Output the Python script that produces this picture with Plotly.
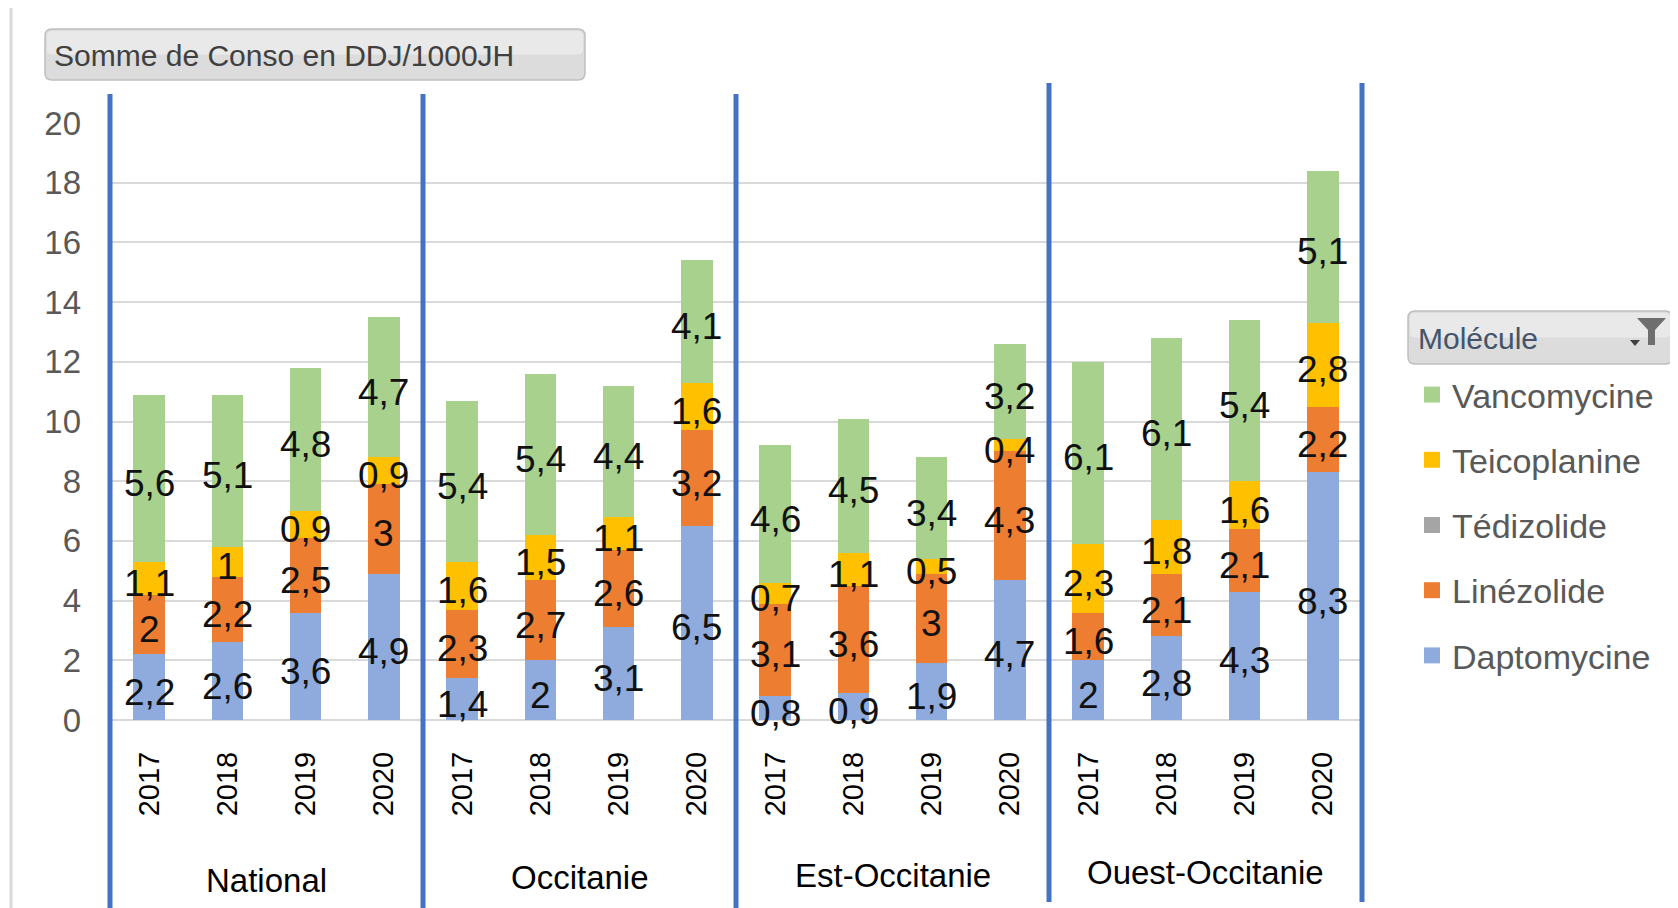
import plotly.graph_objects as go
import numpy as np

# ---------------- data ----------------
groups = ["National", "Occitanie", "Est-Occitanie", "Ouest-Occitanie"]
years = ["2017", "2018", "2019", "2020"]
daptomycine = [2.2, 2.6, 3.6, 4.9, 1.4, 2, 3.1, 6.5, 0.8, 0.9, 1.9, 4.7, 2, 2.8, 4.3, 8.3]
linezolide = [2, 2.2, 2.5, 3, 2.3, 2.7, 2.6, 3.2, 3.1, 3.6, 3, 4.3, 1.6, 2.1, 2.1, 2.2]
tedizolide = [0, 0, 0, 0, 0, 0, 0, 0, 0, 0, 0, 0, 0, 0, 0, 0]
teicoplanine = [1.1, 1, 0.9, 0.9, 1.6, 1.5, 1.1, 1.6, 0.7, 1.1, 0.5, 0.4, 2.3, 1.8, 1.6, 2.8]
vancomycine = [5.6, 5.1, 4.8, 4.7, 5.4, 5.4, 4.4, 4.1, 4.6, 4.5, 3.4, 3.2, 6.1, 6.1, 5.4, 5.1]

series = [  # stacking order bottom -> top
    ("Daptomycine", daptomycine, "#8FAADC", True),
    ("Linézolide", linezolide, "#ED7D31", True),
    ("Tédizolide", tedizolide, "#A5A5A5", False),
    ("Teicoplanine", teicoplanine, "#FFC000", True),
    ("Vancomycine", vancomycine, "#A9D18E", True),
]
legend_order = ["Vancomycine", "Teicoplanine", "Tédizolide", "Linézolide", "Daptomycine"]

# ---------------- geometry helpers ----------------
OFF = 8                      # page body margin in the browser
W, H = 1678 - OFF, 908 - OFF
L, R, T, B = 110, 1362, 123, 720   # plot area in reference pixels
def px(xp):
    return (xp - L) / (R - L)
def py(yp):
    return (B - yp) / (B - T)

FONT = "Liberation Sans, Arial, sans-serif"
n = len(groups) * len(years)
pos = list(range(n))
ticktext = [y for g in groups for y in years]
group_label_y = [880, 878, 875, 873]   # pixel rows of the group captions

def fmt(v):
    return f"{v:g}".replace(".", ",")

fig = go.Figure()
annotations = []
base = np.zeros(n)
for name, vals, color, labelled in series:
    v = np.array(vals, dtype=float)
    fig.add_trace(go.Bar(
        x=pos, y=v, name=name, marker=dict(color=color, line=dict(width=0)),
        showlegend=False, legendgroup=name, hoverinfo="name+y",
    ))
    if labelled:
        for xi, b0, vi in zip(pos, base, v):
            annotations.append(dict(
                x=xi, y=b0 + vi / 2, xref="x", yref="y", text=fmt(vi),
                showarrow=False, xanchor="center", yanchor="middle", yshift=-5,
                font=dict(family=FONT, size=37, color="#111111")))
    base = base + v

colors = {s[0]: s[2] for s in series}
for name in legend_order:
    fig.add_trace(go.Scatter(
        x=[None], y=[None], mode="markers", name=name, legendgroup=name,
        marker=dict(symbol="square", size=20, color=colors[name]),
        showlegend=True,
    ))

shapes = []
# chart border
shapes.append(dict(type="rect", xref="paper", yref="paper",
                   x0=px(11), x1=px(1720), y0=py(960), y1=py(5),
                   line=dict(color="#D9D9D9", width=3), layer="below"))

def rounded(x0, y0, x1, y1, r):
    pts = [
        f"M {px(x0 + r)},{py(y0)}",
        f"L {px(x1 - r)},{py(y0)}",
        f"Q {px(x1)},{py(y0)} {px(x1)},{py(y0 + r)}",
        f"L {px(x1)},{py(y1 - r)}",
        f"Q {px(x1)},{py(y1)} {px(x1 - r)},{py(y1)}",
        f"L {px(x0 + r)},{py(y1)}",
        f"Q {px(x0)},{py(y1)} {px(x0)},{py(y1 - r)}",
        f"L {px(x0)},{py(y0 + r)}",
        f"Q {px(x0)},{py(y0)} {px(x0 + r)},{py(y0)} Z",
    ]
    return " ".join(pts)

# field buttons
for (x0, y0, x1, y1) in [(45, 29, 585, 80), (1408, 311, 1672, 364)]:
    shapes.append(dict(type="path", xref="paper", yref="paper",
                       path=rounded(x0, y0, x1, y1, 7),
                       fillcolor="#DCDCDC", line=dict(color="#BFBFBF", width=1.5)))
    shapes.append(dict(type="path", xref="paper", yref="paper",
                       path=rounded(x0 + 2, y0 + 2, x1 - 2, (y0 + y1) / 2, 5),
                       fillcolor="#E9E9E9", line=dict(width=0)))

# funnel icon + small arrow
funnel = (f"M {px(1637)},{py(318)} L {px(1666)},{py(318)} L {px(1655)},{py(330)} "
          f"L {px(1655)},{py(345)} L {px(1648)},{py(345)} L {px(1648)},{py(330)} Z")
shapes.append(dict(type="path", xref="paper", yref="paper", path=funnel,
                   fillcolor="#6E6E6E", line=dict(width=0)))
arrow = f"M {px(1630)},{py(340)} L {px(1640)},{py(340)} L {px(1635)},{py(346)} Z"
shapes.append(dict(type="path", xref="paper", yref="paper", path=arrow,
                   fillcolor="#404040", line=dict(width=0)))

# blue group dividers
for i in range(len(groups) + 1):
    xb = (i * len(years)) / n
    top, bot = (94, 930) if i < 3 else (83, 902)
    shapes.append(dict(type="line", xref="paper", yref="paper",
                       x0=xb, x1=xb, y0=py(bot), y1=py(top),
                       line=dict(color="#4472C4", width=5)))

annotations += [
    dict(text="Somme de Conso en DDJ/1000JH", xref="paper", yref="paper",
         x=px(52), y=py(55), xanchor="left", yanchor="middle", showarrow=False,
         font=dict(family=FONT, size=30, color="#404040")),
    dict(text="Molécule", xref="paper", yref="paper",
         x=px(1416), y=py(338), xanchor="left", yanchor="middle", showarrow=False,
         font=dict(family=FONT, size=30, color="#44546A")),
]
for gi, g in enumerate(groups):
    annotations.append(dict(
        text=g, xref="x", yref="paper", x=gi * len(years) + (len(years) - 1) / 2,
        y=py(group_label_y[gi]), xanchor="center", yanchor="middle", showarrow=False,
        font=dict(family=FONT, size=33, color="#000000")))

fig.update_layout(
    width=W, height=H, barmode="stack", bargap=0.6,
    margin=dict(l=L - OFF, r=W - (R - OFF), t=T - OFF, b=H - (B - OFF), pad=0),
    paper_bgcolor="white", plot_bgcolor="white",
    showlegend=True,
    legend=dict(x=px(1412), y=py(366), xanchor="left", yanchor="top",
                font=dict(family=FONT, size=34, color="#595959"),
                tracegroupgap=18, traceorder="grouped", itemsizing="trace",
                bgcolor="rgba(0,0,0,0)"),
    xaxis=dict(range=[-0.5, n - 0.5], tickmode="array", tickvals=pos, ticktext=ticktext,
               tickangle=-90, tickfont=dict(family=FONT, size=29, color="#000000"),
               showgrid=False, zeroline=False, showline=False, ticks="",
               ticklabelstandoff=25, fixedrange=True),
    yaxis=dict(range=[0, 20], dtick=2, tick0=0, gridcolor="#D9D9D9", gridwidth=1.5,
               zeroline=True, zerolinecolor="#D9D9D9", zerolinewidth=1.5,
               tickfont=dict(family=FONT, size=33, color="#595959"), ticks="",
               ticklabelstandoff=28, showline=False, fixedrange=True),
    shapes=shapes, annotations=annotations,
)

fig.write_html("out.html")
